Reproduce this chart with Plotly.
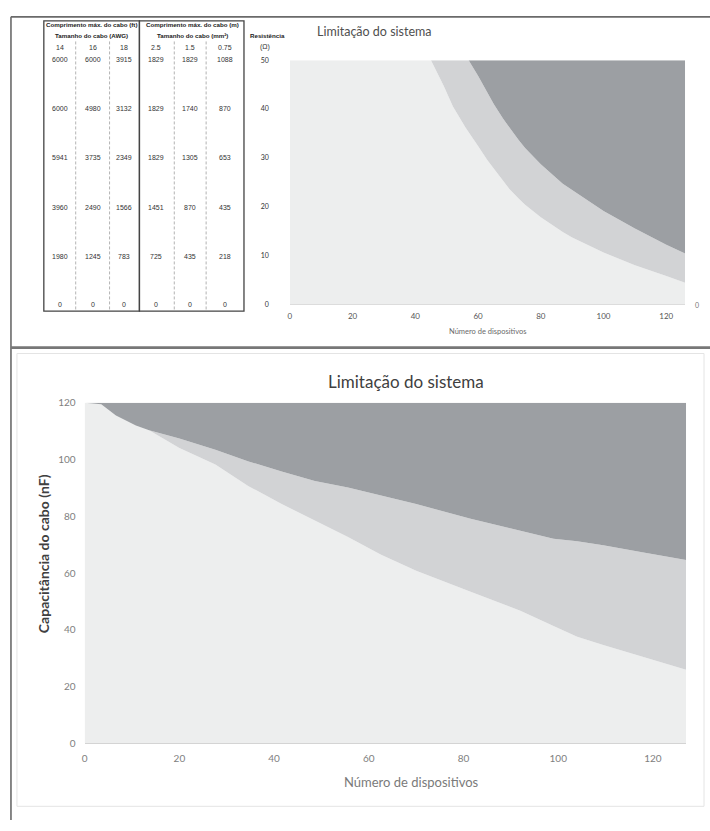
import plotly.graph_objects as go

W, H = 710, 831
def px(x): return x / W
def py(y): return 1 - y / H

# ---------------- data ----------------
# Table (top-left)
awg_sizes = ["14", "16", "18"]
mm2_sizes = ["2.5", "1.5", "0.75"]
resistance = [50, 40, 30, 20, 10, 0]
len_ft_14 = [6000, 6000, 5941, 3960, 1980, 0]
len_ft_16 = [6000, 4980, 3735, 2490, 1245, 0]
len_ft_18 = [3915, 3132, 2349, 1566, 783, 0]
len_m_25 = [1829, 1829, 1829, 1451, 725, 0]
len_m_15 = [1829, 1740, 1305, 870, 435, 0]
len_m_075 = [1088, 870, 653, 435, 218, 0]

# Top chart: resistance limit vs number of devices
devices_top = [0, 45, 49, 52, 56, 57, 60, 63, 65, 68, 70, 73, 75, 80, 87, 90, 100, 110, 117, 120, 126]
res_lower = [50, 50, 44.8, 40.5, 36.2, 35.3, 32.4, 29.5, 27.8, 25.2, 23.6, 21.6, 20.4, 17.8, 14.8, 13.7, 10.6, 8.0, 6.5, 5.8, 4.4]
res_upper = [50, 50, 50, 50, 50, 50, 46.8, 43.3, 41.0, 38.0, 36.2, 33.6, 32.0, 28.7, 24.7, 23.4, 19.1, 15.5, 13.1, 12.2, 10.4]
RES_MAX = 50
TOP_XMAX = 126

# Bottom chart: cable capacitance limit vs number of devices
devices_bot = [0, 3.5, 6.6, 10.8, 13.6, 20, 27.6, 34.6, 41.6, 48.6, 55.6, 62.6, 70, 81.5, 92, 99, 104, 109.5, 118, 127]
cap_upper = [120, 119.5, 115.5, 112, 110.3, 107.4, 103.4, 99.3, 95.8, 92.4, 90.1, 87.2, 84.3, 79.1, 74.8, 72.1, 71.2, 69.8, 67.2, 64.6]
cap_lower = [120, 119.5, 115.5, 112, 110.3, 104.0, 98.2, 90.6, 84.3, 78.5, 72.7, 66.4, 60.8, 53.4, 46.7, 41.3, 37.5, 34.6, 30.3, 25.9]
CAP_MAX = 120
BOT_XMAX = 127

x_ticks = [0, 20, 40, 60, 80, 100, 120]

title_txt = "Limitação do sistema"
xlabel = "Número de dispositivos"
ylabel_bot = "Capacitância do cabo (nF)"

C_LIGHT = "#edeeee"
C_MID = "#d2d3d5"
C_DARK = "#9c9fa3"

fig = go.Figure()

def add_bands(x, lo, up, ymax, xa, ya):
    fig.add_trace(go.Scatter(x=x, y=lo, mode="lines", line=dict(width=0), fill="tozeroy",
                             fillcolor=C_LIGHT, xaxis=xa, yaxis=ya, showlegend=False, hoverinfo="skip"))
    fig.add_trace(go.Scatter(x=x, y=up, mode="lines", line=dict(width=0), fill="tonexty",
                             fillcolor=C_MID, xaxis=xa, yaxis=ya, showlegend=False, hoverinfo="skip"))
    fig.add_trace(go.Scatter(x=x, y=[ymax] * len(x), mode="lines", line=dict(width=0), fill="tonexty",
                             fillcolor=C_DARK, xaxis=xa, yaxis=ya, showlegend=False, hoverinfo="skip"))

add_bands(devices_top, res_lower, res_upper, RES_MAX, "x", "y")
add_bands(devices_bot, cap_lower, cap_upper, CAP_MAX, "x2", "y2")

FONT = "Lato, Open Sans, sans-serif"

fig.update_layout(
    width=W, height=H, margin=dict(l=0, r=0, t=0, b=0),
    paper_bgcolor="white", plot_bgcolor="white",
    font=dict(family=FONT, color="#6f6f6f"),
    xaxis=dict(domain=[px(288), px(685)], range=[0, TOP_XMAX], tickvals=x_ticks,
               showgrid=False, zeroline=False, showline=True, linecolor="#dcdcdc",
               ticks="", tickfont=dict(size=8, color="#555555"), ticklabelstandoff=4),
    yaxis=dict(domain=[py(302), py(54)], range=[0, RES_MAX], dtick=10,
               showgrid=False, zeroline=False, showline=False, ticks="",
               tickfont=dict(size=7, color="#333333"), ticklabelstandoff=20),
    xaxis2=dict(domain=[px(82), px(686)], range=[0, BOT_XMAX], tickvals=x_ticks, anchor="y2",
                showgrid=False, zeroline=False, showline=True, linecolor="#d4d4d4",
                ticks="", tickfont=dict(size=10, color="#808080"), ticklabelstandoff=6),
    yaxis2=dict(domain=[py(748), py(402)], range=[0, CAP_MAX], dtick=20, anchor="x2",
                showgrid=False, zeroline=False, showline=False, ticks="",
                tickfont=dict(size=10, color="#808080"), ticklabelstandoff=8),
)

ann = []
def tx(x, y, t, f, bold=False, angle=0):
    ann.append(dict(x=px(x), y=py(y), text=("<b>%s</b>" % t) if bold else t, showarrow=False,
                    xref="paper", yref="paper", xanchor="center", yanchor="middle",
                    textangle=angle, font=f))

# titles
tx(373, 25, title_txt, dict(size=12.5, color="#4f4f4f", family=FONT))
tx(405, 380, title_txt, dict(size=17, color="#404040", family=FONT))
tx(487, 330, xlabel, dict(size=7.5, color="#6a6a6a", family=FONT))
tx(410, 787, xlabel, dict(size=13, color="#7a7a7a", family=FONT))
tx(40, 555, ylabel_bot, dict(size=14, color="#404040", family=FONT), True, -90)
# stray secondary-axis zero on the right of the top chart
tx(697, 303, "0", dict(size=7, color="#777777", family=FONT))

# table text
TFAM = "Liberation Sans Narrow, Liberation Sans, sans-serif"
TF = dict(size=6.2, color="#222222", family=TFAM)
TV = dict(size=7, color="#333333", family=TFAM)

tx(89, 18, "Comprimento máx. do cabo (ft)", TF, True)
tx(89, 29, "Tamanho do cabo (AWG)", TF, True)
tx(190, 18, "Comprimento máx. do cabo (m)", TF, True)
tx(190, 29, "Tamanho do cabo (mm²)", TF, True)
tx(266, 29, "Resistência", TF, True)
tx(263, 41, "(Ω)", TV)

col_x = [57, 90, 122, 154, 188, 223]
for cx, s in zip(col_x, awg_sizes + mm2_sizes):
    tx(cx, 41, s, TV)
cols = [len_ft_14, len_ft_16, len_ft_18, len_m_25, len_m_15, len_m_075]
row_y = [53, 103, 153, 204, 253, 302]
for cx, col in zip(col_x, cols):
    for ry, v in zip(row_y, col):
        tx(cx, ry, str(v), TV)

fig.update_layout(annotations=ann)

shapes = []
def line(x0, y0, x1, y1, color, width, dash="solid"):
    shapes.append(dict(type="line", xref="paper", yref="paper", x0=px(x0), y0=py(y0), x1=px(x1), y1=py(y1),
                       line=dict(color=color, width=width, dash=dash)))

# table boxes
for xl, xr in [(41, 137), (137, 242)]:
    shapes.append(dict(type="rect", xref="paper", yref="paper", x0=px(xl), x1=px(xr), y0=py(309), y1=py(14),
                       line=dict(color="#444444", width=1.3)))
for xd in [73, 107, 172, 204]:
    line(xd, 35, xd, 309, "#a0a0a0", 0.8, "3px,2px")

# chart area frames (faint)
shapes.append(dict(type="rect", xref="paper", yref="paper", x0=px(14), x1=px(704), y0=py(812), y1=py(352),
                   line=dict(color="#e4e4e4", width=1)))
# figure borders
line(8, 10, 710, 10, "#6a6a6a", 1.6)
line(8, 10, 8, 826, "#6a6a6a", 1.6)
line(8, 346, 710, 346, "#777777", 2.6)

fig.update_layout(shapes=shapes)
fig.write_html("out.html", config={"displayModeBar": False},
               post_script="document.body.style.margin='0';document.body.style.overflow='hidden';")
